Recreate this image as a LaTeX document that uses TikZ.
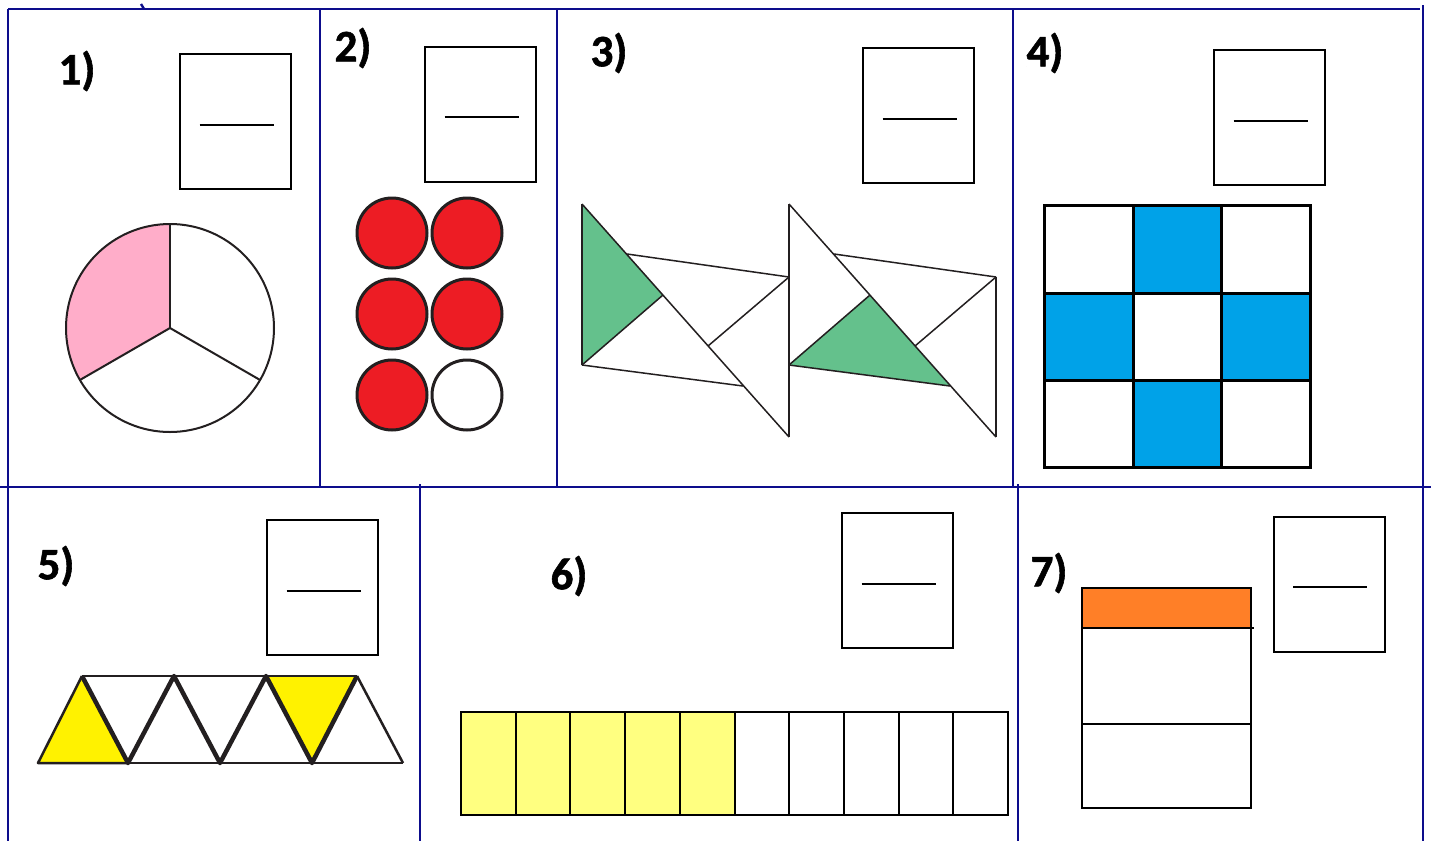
\documentclass[tikz,border=0pt]{standalone}
\usepackage{fontspec}
\setmainfont{Carlito}[BoldFont={Carlito Bold}]
\newfontfamily\lblfont{Carlito Bold}[FakeBold=1.3]
\usetikzlibrary{calc}
\definecolor{bordblue}{RGB}{13,13,140}
\definecolor{pinkfill}{RGB}{255,173,201}
\definecolor{redfill}{RGB}{237,28,36}
\definecolor{greenfill}{RGB}{100,193,140}
\definecolor{bluefill}{RGB}{0,162,232}
\definecolor{yellowfill}{RGB}{255,242,0}
\definecolor{lightyellow}{RGB}{255,255,128}
\definecolor{orangefill}{RGB}{255,127,39}
\definecolor{darkline}{RGB}{35,31,32}
\tikzset{
  border/.style={draw=bordblue, line width=2.4pt},
  lbl/.style={font=\lblfont\fontsize{45}{50}\selectfont, inner sep=0pt},
  ansbox/.style={draw=black, line width=2pt, minimum width=111pt, minimum height=135pt, inner sep=0pt, outer sep=0pt},
  fracline/.style={draw=black, line width=2pt},
  figline/.style={draw=darkline, line width=2pt},
  tri/.style={draw=darkline, line width=1.5pt, line join=round},
  gridl/.style={draw=black, line width=3pt},
}
\newcommand{\answer}[3]{%
  \node[ansbox] (#1) at (#2,#3) {};
  \draw[fracline] ($(#1.center)+(-36,3)$) -- ($(#1.center)+(38,3)$);
}
\begin{document}
\begin{tikzpicture}[x=1pt,y=-1pt]
\useasboundingbox (0,0) rectangle (1431,841);
\fill[white] (0,0) rectangle (1431,841);

% ---------- borders ----------
\draw[border] (8,9) -- (1420,9);
\draw[border] (141,4) -- (144,9);
\draw[border] (1423,5) -- (1423,841);
\draw[border] (8,9) -- (8,841);
\draw[border] (0,487) -- (1431,487);
\foreach \bx in {320,557,1013} { \draw[border] (\bx,9) -- (\bx,487); }
\foreach \bx in {420,1018} { \draw[border] (\bx,484) -- (\bx,841); }

% ---------- labels ----------
\node[lbl] (l1) at (77,71) {1)};
\node[lbl] (l2) at (353,48) {2)};
\node[lbl] (l3) at (609,53) {3)};
\node[lbl] (l4) at (1045,53) {4)};
\node[lbl] (l5) at (56,566) {5)};
\node[lbl] (l6) at (569,576) {6)};
\node[lbl] (l7) at (1049,573) {7)};

% ---------- answer boxes ----------
\answer{b1}{235.5}{121.5}
\answer{b2}{480.5}{114}
\answer{b3}{918.5}{115.5}
\answer{b4}{1269.5}{117.5}
\answer{b5}{322.5}{587.5}
\answer{b6}{897.5}{580.5}
\answer{b7}{1329}{584}

% ---------- 1) circle ----------
\coordinate (c1) at (170,328);
\coordinate (ctop) at (170,224);
\coordinate (cleft) at (79.9,380);
\coordinate (cright) at (260.1,380);
\fill[pinkfill] (c1) -- (ctop) arc[start angle=-90, end angle=-210, radius=104] -- cycle;
\draw[figline] (c1) circle[radius=104];
\draw[figline] (c1) -- (ctop);
\draw[figline] (c1) -- (cleft);
\draw[figline] (c1) -- (cright);

% ---------- 2) counters ----------
\foreach \cx/\cy/\cf in {392/233/redfill, 467/233/redfill, 392/314/redfill, 467/314/redfill, 392/395/redfill, 467/395/white} {
  \draw[fill=\cf, draw=darkline, line width=3pt] (\cx,\cy) circle[radius=35];
}

% ---------- 3) triangles ----------
\fill[greenfill] (582,204) -- (582,365) -- (663,295) -- cycle;
\fill[greenfill] (789,365) -- (870,295) -- (950,386) -- cycle;
\foreach \ox in {582,789} {
  \draw[tri] (\ox,204) -- (\ox,365);
  \draw[tri] (\ox,204) -- (\ox+207,437);
  \draw[tri] (\ox+207,277) -- (\ox+207,437);
  \draw[tri] (\ox+45,254) -- (\ox+207,277);
  \draw[tri] (\ox,365) -- (\ox+161,386);
  \draw[tri] (\ox,365) -- (\ox+81,295);
  \draw[tri] (\ox+126,346) -- (\ox+207,277);
}

% ---------- 4) grid ----------
\fill[bluefill] (1133,205) rectangle (1221,293);
\fill[bluefill] (1044,293) rectangle (1133,380);
\fill[bluefill] (1221,293) rectangle (1310,380);
\fill[bluefill] (1133,380) rectangle (1221,467);
\draw[gridl] (1044,205) rectangle (1310,467);
\draw[gridl] (1133,205) -- (1133,467);
\draw[gridl] (1221,205) -- (1221,467);
\draw[gridl] (1044,293) -- (1310,293);
\draw[gridl] (1044,380) -- (1310,380);

% ---------- 5) triangle strip ----------
\fill[yellowfill] (38,763) -- (82,676) -- (128,763) -- cycle;
\fill[yellowfill] (266,676) -- (357,676) -- (312,763) -- cycle;
\draw[draw=darkline, line width=2.5pt] (82,676) -- (357,676);
\draw[draw=darkline, line width=2.5pt] (38,763) -- (403,763);
\draw[draw=darkline, line width=2.5pt, line join=round] (128,763) -- (38,763) -- (82,676);
\draw[draw=darkline, line width=2.5pt, line join=round] (357,676) -- (403,763);
\draw[draw=darkline, line width=4.5pt, line join=round]
  (82,676) -- (128,763) -- (174,676) -- (220,763) -- (266,676) -- (312,763) -- (357,676);

% ---------- 6) bar ----------
\foreach \i in {0,...,4} {
  \fill[lightyellow] (461+54.7*\i,712) rectangle (461+54.7*\i+54.7,815);
}
\draw[figline, draw=black] (461,712) rectangle (1008,815);
\foreach \i in {1,...,9} {
  \draw[figline, draw=black] (461+54.7*\i,712) -- (461+54.7*\i,815);
}

% ---------- 7) column ----------
\fill[orangefill] (1082,588) rectangle (1251,628);
\draw[draw=black, line width=2.5pt] (1082,588) rectangle (1251,808);
\draw[draw=black, line width=2.5pt] (1082,628) -- (1254,628);
\draw[draw=black, line width=2.5pt] (1082,724) -- (1251,724);
\end{tikzpicture}
\end{document}
